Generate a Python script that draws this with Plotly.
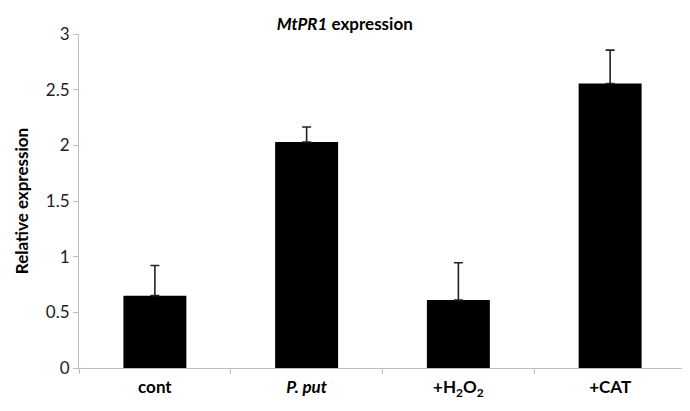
import plotly.graph_objects as go

# data
categories = ["cont", "P. put", "+H2O2", "+CAT"]
tick_labels = ["<b>cont</b>", "<b><i>P. put</i></b>",
               "<b>+H<sub>2</sub>O<sub>2</sub></b>", "<b>+CAT</b>"]
expression = [0.65, 2.03, 0.61, 2.555]
error_up = [0.27, 0.135, 0.335, 0.30]
y_ticks = [0, 0.5, 1, 1.5, 2, 2.5, 3]

FONT = "Lato, Carlito, Calibri, sans-serif"
AXIS_GREY = "#bfbfbf"

fig = go.Figure()
fig.add_trace(go.Bar(
    x=categories,
    y=expression,
    marker=dict(color="black", line=dict(width=0)),
    error_y=dict(type="data", array=error_up, symmetric=False,
                 arrayminus=[0] * len(error_up),
                 color="#222222", thickness=1.6, width=4.5),
    showlegend=False,
))

fig.update_layout(
    width=690, height=411,
    margin=dict(l=71, r=12, t=26, b=51),
    paper_bgcolor="white", plot_bgcolor="white",
    bargap=0.585,
    font=dict(family=FONT, color="#222222"),
    title=dict(text="<b><i>MtPR1</i> expression</b>", x=0.488, xanchor="center",
               y=0.96, yanchor="middle", font=dict(size=17, color="black")),
)
fig.update_xaxes(
    tickmode="array", tickvals=categories, ticktext=tick_labels,
    tickson="boundaries", ticks="outside", ticklen=5, tickcolor=AXIS_GREY,
    ticklabelstandoff=4,
    showline=True, linecolor=AXIS_GREY, linewidth=1,
    showgrid=False, tickfont=dict(size=17, color="black"),
)
fig.update_yaxes(
    range=[0, 3], tickvals=y_ticks, ticktext=[f"{v:g}" for v in y_ticks],
    ticks="outside", ticklen=5, tickcolor=AXIS_GREY,
    showline=True, linecolor=AXIS_GREY, linewidth=1,
    showgrid=False, zeroline=False,
    tickfont=dict(size=17, color="#222222"),
    title=dict(text="<b>Relative expression</b>", font=dict(size=17, color="black"),
               standoff=12),
)

fig.write_html("out.html")
